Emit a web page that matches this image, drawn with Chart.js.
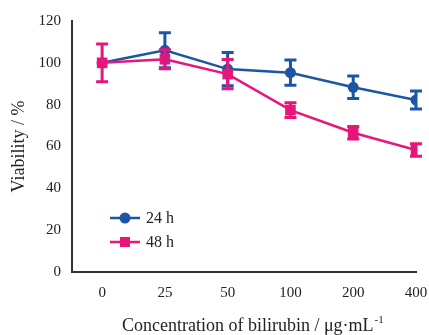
<!DOCTYPE html>
<html>
<head>
<meta charset="utf-8">
<script src="https://cdn.jsdelivr.net/npm/chart.js@4"></script>
<style>
  html, body { margin: 0; padding: 0; background: #fff; }
  #wrap { width: 429px; height: 335px; }
</style>
</head>
<body>
<div id="wrap"><canvas id="c" width="429" height="335"></canvas></div>
<script>
// categories (µg/mL) and viability means/errors
const concLabels = ['0', '25', '50', '100', '200', '400'];
const v24 = [100, 106, 97, 95.3, 88.3, 82.2];
const e24 = [0, 8.4, 8, 6, 5.4, 4.3];
const v48 = [100, 101.7, 94.6, 77.4, 66.6, 58.3];
const e48 = [9, 4.5, 7, 3.5, 3, 3];
const yTicks = [0, 20, 40, 60, 80, 100, 120];

const BLUE = '#1b56a5';
const PINK = '#e8157b';
const AXIS = '#2a3630';
const FONT = '"Liberation Serif", "Times New Roman", serif';

function pts(vals){ return vals.map((v,i)=>({x:i, y:v})); }

// error bars drawn through the chart scales
const errorBars = {
  id: 'errorBars',
  afterDatasetsDraw(chart){
    const ctx = chart.ctx, xs = chart.scales.x, ys = chart.scales.y;
    chart.data.datasets.forEach(ds=>{
      ctx.save();
      ctx.strokeStyle = ds.borderColor; ctx.lineWidth = 3;
      ds.data.forEach((p,i)=>{
        const e = ds.errors[i]; if (!e) return;
        const x = xs.getPixelForValue(p.x);
        const t = ys.getPixelForValue(p.y+e), b = ys.getPixelForValue(p.y-e);
        ctx.beginPath();
        ctx.moveTo(x,t); ctx.lineTo(x,b);
        ctx.moveTo(x-6,t); ctx.lineTo(x+6,t);
        ctx.moveTo(x-6,b); ctx.lineTo(x+6,b);
        ctx.stroke();
      });
      ctx.restore();
    });
  }
};

// legend inside the plot, plus superscript x title
const extras = {
  id: 'extras',
  afterDraw(chart){
    const ctx = chart.ctx, a = chart.chartArea;
    const items = [
      { label: '24 h', color: BLUE, shape: 'circle' },
      { label: '48 h', color: PINK, shape: 'rect' }
    ];
    items.forEach((it, k)=>{
      const y = a.top + 197 + k*24, x0 = a.left + 38;
      ctx.save();
      ctx.strokeStyle = it.color; ctx.fillStyle = it.color; ctx.lineWidth = 2.5;
      ctx.beginPath(); ctx.moveTo(x0, y); ctx.lineTo(x0+30, y); ctx.stroke();
      if (it.shape === 'circle') { ctx.beginPath(); ctx.arc(x0+15, y, 5.5, 0, Math.PI*2); ctx.fill(); }
      else ctx.fillRect(x0+10, y-5, 10, 10);
      ctx.fillStyle = '#222'; ctx.font = '16px ' + FONT; ctx.textBaseline = 'middle';
      ctx.fillText(it.label, x0+36, y+1);
      ctx.restore();
    });
    // x axis title
    ctx.save();
    ctx.fillStyle = '#222'; ctx.textBaseline = 'alphabetic';
    const main = 'Concentration of bilirubin / μg·mL', sup = '-1';
    ctx.font = '18px ' + FONT;
    const w1 = ctx.measureText(main).width;
    const x = 122, y = 331;
    ctx.fillText(main, x, y);
    ctx.font = '11px ' + FONT; ctx.fillText(sup, x + w1 + 1, y - 8);
    ctx.restore();
  }
};

new Chart(document.getElementById('c'), {
  type: 'line',
  data: {
    datasets: [
      { label: '24 h', data: pts(v24), errors: e24, borderColor: BLUE, backgroundColor: BLUE, order: 1,
        borderWidth: 2.5, pointStyle: 'circle', pointRadius: 5.5, pointBorderWidth: 0, tension: 0 },
      { label: '48 h', data: pts(v48), errors: e48, borderColor: PINK, backgroundColor: PINK, order: 0,
        borderWidth: 2.5, pointStyle: 'rect', pointRadius: 7.5, pointBorderWidth: 0, tension: 0 }
    ]
  },
  options: {
    responsive: false,
    animation: false,
    layout: { padding: { top: 21, right: 13, left: 8, bottom: 0 } },
    plugins: { legend: { display: false }, tooltip: { enabled: false } },
    scales: {
      x: {
        type: 'linear', min: -0.48, max: 5,
        afterBuildTicks(s){ s.ticks = concLabels.map((_,i)=>({value:i})); },
        afterFit(s){ s.height = 63; s.paddingRight = 0; s.paddingLeft = 0; },
        grid: { display: false, drawTicks: true, tickLength: 6, tickColor: AXIS, tickWidth: 2 },
        border: { color: AXIS, width: 2 },
        ticks: { color: '#222', font: { family: FONT, size: 15 }, padding: 6,
          callback: v => concLabels[v] },
      },
      y: {
        min: 0, max: 120,
        afterBuildTicks(s){ s.ticks = yTicks.map(v=>({value:v})); },
        afterFit(s){ s.width = 64; s.paddingTop = 0; s.paddingBottom = 0; },
        grid: { display: false, drawTicks: true, tickLength: 6, tickColor: AXIS, tickWidth: 2 },
        border: { color: AXIS, width: 2 },
        ticks: { color: '#222', font: { family: FONT, size: 15 }, padding: 5 },
        title: { display: true, text: 'Viability / %', color: '#222',
          font: { family: FONT, size: 18 }, padding: { top: 0, bottom: 0 } }
      }
    }
  },
  plugins: [errorBars, extras]
});
</script>
</body>
</html>
